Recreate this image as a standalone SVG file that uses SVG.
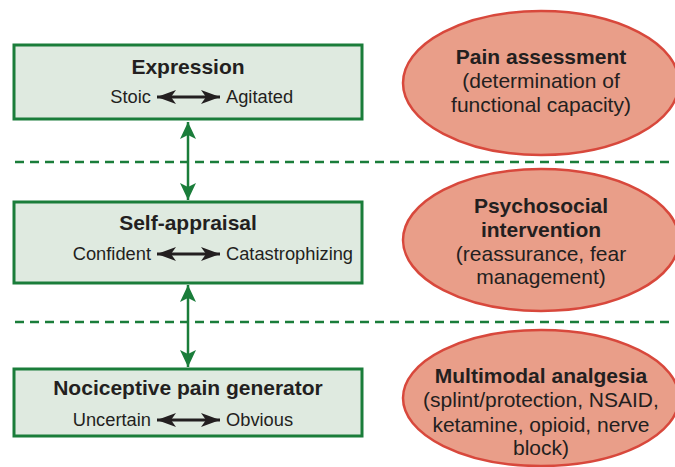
<svg xmlns="http://www.w3.org/2000/svg" width="675" height="467" viewBox="0 0 675 467">
  <defs>
    <style>
      .box { fill: #dfeae0; stroke: #1a7d3a; stroke-width: 3; }
      .oval { fill: #e99e89; stroke: #d8483c; stroke-width: 2.5; }
      .title { font-family: "Liberation Sans", Arial, sans-serif; font-weight: bold; font-size: 21px; fill: #231f20; text-anchor: middle; }
      .sub { font-family: "Liberation Sans", Arial, sans-serif; font-size: 18.3px; fill: #231f20; }
      .otext { font-family: "Liberation Sans", Arial, sans-serif; font-size: 21px; fill: #231f20; text-anchor: middle; }
      .divider { stroke: #1a7d3a; stroke-width: 2.5; stroke-dasharray: 9 6; fill: none; }
      .link { stroke: #1a7d3a; stroke-width: 2.5; fill: none; }
      .scale { stroke: #231f20; stroke-width: 3; fill: none; }
    </style>
    <marker id="greenHead" viewBox="-18 -9 19 18" refX="0" refY="0" markerWidth="19" markerHeight="18" markerUnits="userSpaceOnUse" orient="auto-start-reverse">
      <path d="M0,0 L-17,-8 L-13,0 L-17,8 Z" fill="#1a7d3a"/>
    </marker>
    <marker id="blackHead" viewBox="-20 -9 21 18" refX="0" refY="0" markerWidth="21" markerHeight="18" markerUnits="userSpaceOnUse" orient="auto-start-reverse">
      <path d="M0,0 L-19,-7 L-14,0 L-19,7 Z" fill="#231f20"/>
    </marker>
  </defs>

  <rect width="675" height="467" fill="#ffffff"/>

  <!-- level dividers -->
  <g id="dividers">
    <line class="divider" x1="15" y1="162" x2="675" y2="162"/>
    <line class="divider" x1="15" y1="322" x2="675" y2="322"/>
  </g>

  <!-- connectors between levels -->
  <g id="connectors">
    <line class="link" x1="188" y1="122" x2="188" y2="200" marker-start="url(#greenHead)" marker-end="url(#greenHead)"/>
    <line class="link" x1="188" y1="285" x2="188" y2="367" marker-start="url(#greenHead)" marker-end="url(#greenHead)"/>
  </g>

  <g id="expression">
    <rect class="box" x="14" y="45" width="348" height="74"/>
    <text class="title" x="188" y="74">Expression</text>
    <text class="sub" x="151" y="103" text-anchor="end">Stoic</text>
    <line class="scale" x1="157" y1="97" x2="220" y2="97" marker-start="url(#blackHead)" marker-end="url(#blackHead)"/>
    <text class="sub" x="226" y="103">Agitated</text>
  </g>

  <g id="self-appraisal">
    <rect class="box" x="14" y="202" width="348" height="81"/>
    <text class="title" x="188" y="230">Self-appraisal</text>
    <text class="sub" x="151" y="260" text-anchor="end">Confident</text>
    <line class="scale" x1="157" y1="254" x2="220" y2="254" marker-start="url(#blackHead)" marker-end="url(#blackHead)"/>
    <text class="sub" x="226" y="260">Catastrophizing</text>
  </g>

  <g id="nociceptive">
    <rect class="box" x="14" y="369" width="348" height="67"/>
    <text class="title" x="188" y="395">Nociceptive pain generator</text>
    <text class="sub" x="151" y="426" text-anchor="end">Uncertain</text>
    <line class="scale" x1="157" y1="420" x2="220" y2="420" marker-start="url(#blackHead)" marker-end="url(#blackHead)"/>
    <text class="sub" x="226" y="426">Obvious</text>
  </g>

  <g id="pain-assessment">
    <ellipse class="oval" cx="541" cy="83" rx="138" ry="72"/>
    <text class="title" x="541" y="64">Pain assessment</text>
    <text class="otext" x="541" y="88">(determination of</text>
    <text class="otext" x="541" y="112">functional capacity)</text>
  </g>

  <g id="psychosocial">
    <ellipse class="oval" cx="541" cy="240" rx="138" ry="71"/>
    <text class="title" x="541" y="213">Psychosocial</text>
    <text class="title" x="541" y="237">intervention</text>
    <text class="otext" x="541" y="261">(reassurance, fear</text>
    <text class="otext" x="541" y="284">management)</text>
  </g>

  <g id="multimodal">
    <ellipse class="oval" cx="541" cy="398" rx="138" ry="68"/>
    <text class="title" x="541" y="383">Multimodal analgesia</text>
    <text class="otext" x="541" y="407">(splint/protection, NSAID,</text>
    <text class="otext" x="541" y="432">ketamine, opioid, nerve</text>
    <text class="otext" x="541" y="455">block)</text>
  </g>
</svg>
